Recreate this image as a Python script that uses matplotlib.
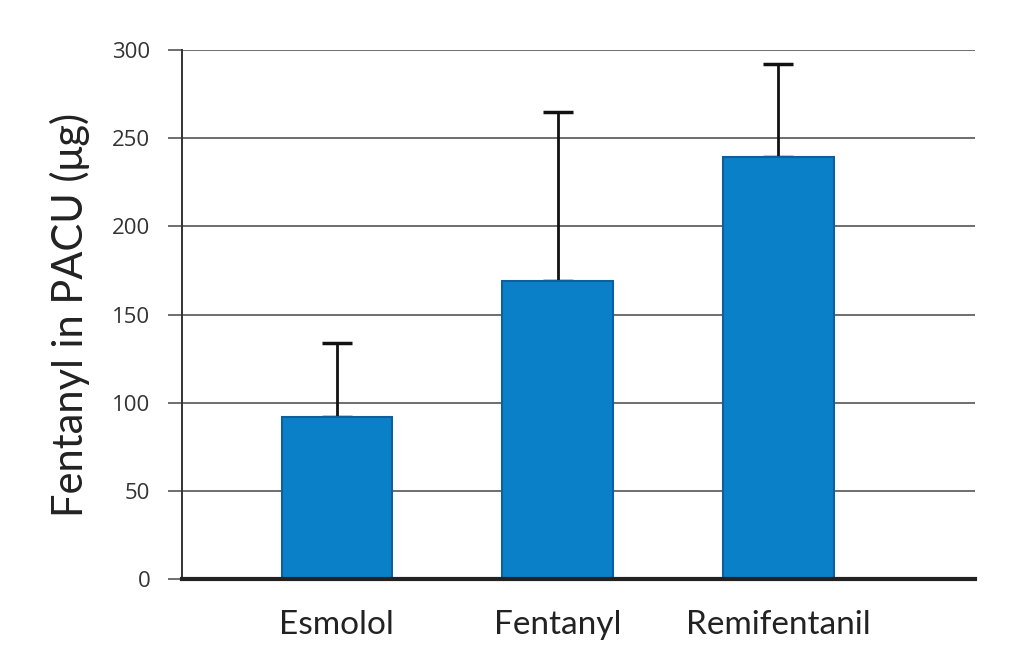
import matplotlib
matplotlib.use("Agg")
import matplotlib.pyplot as plt
import numpy as np

groups = ["Esmolol", "Fentanyl", "Remifentanil"]
means = [92, 169, 239]
sd = [42, 96, 53]
yticks = [0, 50, 100, 150, 200, 250, 300]

plt.rcParams['font.family'] = ['Lato', 'DejaVu Sans']

fig = plt.figure(figsize=(10.24, 6.56), dpi=100)
ax = fig.add_axes([0.178, 0.117, 0.774, 0.807])

x = np.arange(len(groups))
ax.bar(x, means, width=0.5, color='#0a80c8', edgecolor='#0f5f9e', linewidth=1.5, zorder=3)
ax.errorbar(x, means, yerr=[np.zeros(len(sd)), sd], fmt='none', ecolor='#111111',
            elinewidth=2, capsize=11, capthick=2.5, zorder=2)

ax.set_ylim(0, 300)
ax.set_xlim(-0.70, 2.89)
ax.set_yticks(yticks)
ax.set_yticklabels([str(t) for t in yticks], family=['Open Sans', 'DejaVu Sans'],
                   fontsize=16, color='#333333')
ax.yaxis.grid(True, color='#6e6e6e', linewidth=1.4, zorder=0)
ax.tick_params(axis='y', length=10, width=1.4, color='#6e6e6e', pad=13)
ax.set_xticks(x)
ax.set_xticklabels(groups, fontsize=24, color='#222222')
ax.tick_params(axis='x', length=0, pad=22)

for s in ['top', 'right']:
    ax.spines[s].set_visible(False)
ax.spines['left'].set_color('#333333')
ax.spines['left'].set_linewidth(1.4)
ax.spines['bottom'].set_color('#222222')
ax.spines['bottom'].set_linewidth(3)
ax.spines['bottom'].set_zorder(4)

ax.set_ylabel("Fentanyl in PACU (\u03bcg)", fontsize=30, color='#222222', labelpad=16)

fig.savefig("out.png", dpi=100)
